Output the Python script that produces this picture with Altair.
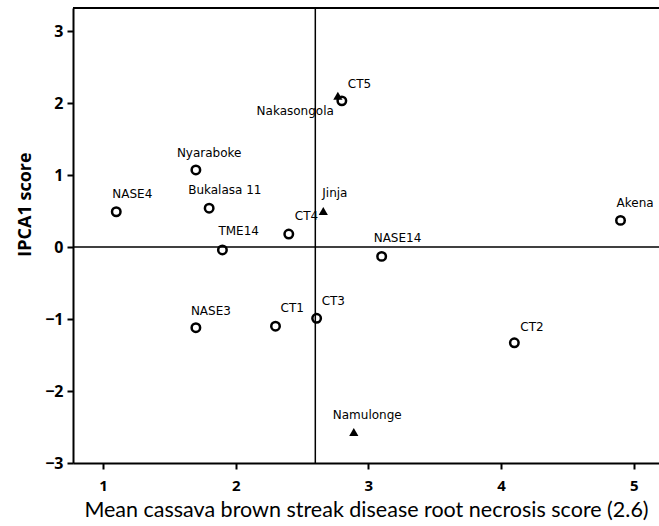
import altair as alt
import pandas as pd

names = ["NASE4", "Nyaraboke", "Bukalasa 11", "TME14", "CT4", "Jinja", "Nakasongola",
         "CT5", "NASE14", "Akena", "NASE3", "CT1", "CT3", "CT2", "Namulonge"]
cbsd_score = [1.10, 1.70, 1.80, 1.90, 2.40, 2.66, 2.77, 2.80, 3.10, 4.90, 1.70, 2.30, 2.61, 4.10, 2.89]
ipca1 = [0.49, 1.07, 0.54, -0.04, 0.18, 0.50, 2.10, 2.03, -0.13, 0.37, -1.12, -1.10, -0.99, -1.33, -2.57]
kind = ["Genotype", "Genotype", "Genotype", "Genotype", "Genotype", "Environment", "Environment",
        "Genotype", "Genotype", "Genotype", "Genotype", "Genotype", "Genotype", "Genotype", "Environment"]

# label nudges (pixels) and alignment
label_dx = [-4, -19, -21, -4, 6, -1, -4, 6, -8, -4, -5, 5, 5, 6, -21]
label_dy = [-18, -17, -18, -19, -18, -18, 15, -17, -18, -17, -17, -18, -17, -16, -17]
label_align = ["left"] * 6 + ["right"] + ["left"] * 8

mean_score = 2.6
x_ticks = [1, 2, 3, 4, 5]
y_ticks = [-3, -2, -1, 0, 1, 2, 3]

df = pd.DataFrame({"name": names, "x": cbsd_score, "y": ipca1, "kind": kind})

W, H = 586, 455
xs = alt.Scale(domain=[0.774, 5.19], nice=False, zero=False)
ys = alt.Scale(domain=[-3, 3.32], nice=False, zero=False)

tick_font = "Open Sans"
xenc = alt.X("x:Q", scale=xs,
             axis=alt.Axis(values=x_ticks, format="d",
                           title="Mean cassava brown streak disease root necrosis score (2.6)",
                           grid=False, domainColor="black", domainWidth=2, tickColor="black",
                           tickWidth=2, tickSize=6, labelFont=tick_font, labelFontSize=15,
                           labelFontWeight="bold", labelColor="black", labelPadding=9,
                           titleFont="Lato", titleFontSize=21.5, titleFontWeight="normal",
                           titleColor="black", titlePadding=6))
yenc = alt.Y("y:Q", scale=ys,
             axis=alt.Axis(values=y_ticks, format="d", title="IPCA1 score", grid=False,
                           domainColor="black",
                           domainWidth=2, tickColor="black", tickWidth=2, tickSize=6,
                           labelFont=tick_font, labelFontSize=16, labelFontWeight="bold",
                           labelColor="black", labelPadding=4,
                           titleFont=tick_font, titleFontSize=18, titleFontWeight="bold",
                           titleColor="black", titleX=-48, titleY=196, titleAngle=-90,
                           titleAlign="center", titleBaseline="middle"))

base = alt.Chart(df)

circles = base.transform_filter(alt.datum.kind == "Genotype").mark_point(
    shape="circle", filled=False, color="black", strokeWidth=2.5, size=72, opacity=1
).encode(x=xenc, y=yenc)

triangles = base.transform_filter(alt.datum.kind == "Environment").mark_point(
    shape="triangle-up", filled=True, color="black", size=85, opacity=1
).encode(x="x:Q", y="y:Q")

hline = alt.Chart(pd.DataFrame({"y": [0]})).mark_rule(color="black", strokeWidth=1.5).encode(y=alt.Y("y:Q", scale=ys))
vline = alt.Chart(pd.DataFrame({"x": [mean_score]})).mark_rule(color="black", strokeWidth=1.5).encode(x=alt.X("x:Q", scale=xs))
topline = alt.Chart(pd.DataFrame({"a": [0]})).mark_rule(color="black", strokeWidth=2).encode(
    x=alt.value(0), x2=alt.value(W), y=alt.value(0))

labels = []
for i, n in enumerate(names):
    labels.append(
        base.transform_filter(alt.datum.name == n).mark_text(
            font="DejaVu Sans", fontSize=12, color="black", align=label_align[i],
            baseline="middle", dx=label_dx[i], dy=label_dy[i]
        ).encode(x="x:Q", y="y:Q", text="name:N")
    )

chart = alt.layer(hline, vline, topline, circles, triangles, *labels).properties(
    width=W, height=H, autosize="none",
    padding={"left": 73, "top": 8, "right": 0, "bottom": 63}
).configure_view(stroke=None).configure(background="white")

chart.save("out.html", embed_options={"renderer": "svg", "actions": False})
